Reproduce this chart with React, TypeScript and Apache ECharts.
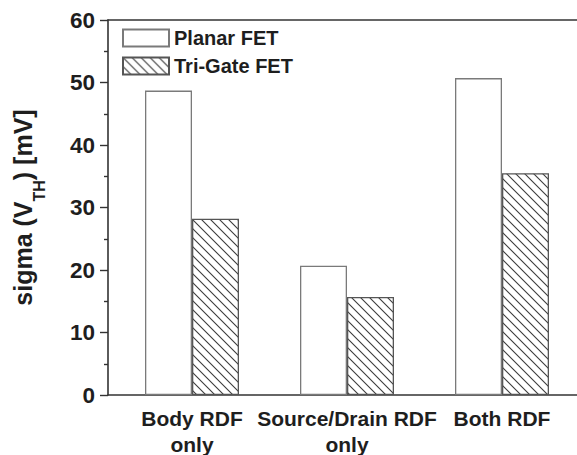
import React, { useEffect, useRef } from "react";
import * as echarts from "echarts";

// Threshold-voltage variability by random dopant fluctuation source
const categories = ["Body RDF\nonly", "Source/Drain RDF\nonly", "Both RDF"];
const planarFET = [48.7, 20.7, 50.7];
const triGateFET = [28.2, 15.7, 35.5];
const yTicks = { min: 0, max: 60, step: 10 };

const INK = "#1e1e1e";
const FONT = "'Liberation Sans', Arial, Helvetica, sans-serif";

// Diagonal "\" hatch tile used as the Tri-Gate fill
function makeHatch(): HTMLCanvasElement {
  const t = 9;
  const c = document.createElement("canvas");
  c.width = t;
  c.height = t;
  const ctx = c.getContext("2d")!;
  ctx.fillStyle = "#ffffff";
  ctx.fillRect(0, 0, t, t);
  ctx.strokeStyle = "#3a3a3a";
  ctx.lineWidth = 1.1;
  for (let k = -1; k <= 1; k++) {
    ctx.beginPath();
    ctx.moveTo(-1, -1 + k * t);
    ctx.lineTo(t + 1, t + 1 + k * t);
    ctx.stroke();
  }
  return c;
}

export default function App() {
  const ref = useRef<HTMLDivElement>(null);

  useEffect(() => {
    if (!ref.current) return;
    const chart = echarts.init(ref.current, undefined, { renderer: "svg" });
    const hatch = makeHatch();

    const barGrid = { left: 114.5, width: 465, top: 20, bottom: 60, outerBoundsMode: "none" };
    const frameGrid = { left: 108, right: -30, top: 20, bottom: 60, outerBoundsMode: "none" };

    chart.setOption({
      animation: false,
      backgroundColor: "#ffffff",
      textStyle: { fontFamily: FONT },
      grid: [barGrid, frameGrid],
      legend: {
        orient: "vertical",
        left: 117,
        top: 23,
        itemWidth: 46,
        itemHeight: 17,
        itemGap: 8,
        icon: "rect",
        textStyle: { fontSize: 20, fontWeight: "bold", color: INK, fontFamily: FONT },
        data: ["Planar FET", "Tri-Gate FET"],
      },
      xAxis: [
        {
          type: "category",
          gridIndex: 0,
          data: categories,
          axisLine: { show: false },
          axisTick: { show: false },
          axisLabel: {
            interval: 0,
            margin: 10,
            fontSize: 21,
            fontWeight: "bold",
            color: INK,
            lineHeight: 26,
            fontFamily: FONT,
          },
        },
        {
          type: "value",
          gridIndex: 1,
          min: 0,
          max: 1,
          axisLine: { show: true, onZero: false, lineStyle: { color: "#333", width: 1.6 } },
          axisTick: { show: false },
          axisLabel: { show: false },
          splitLine: { show: false },
        },
        {
          type: "value",
          gridIndex: 1,
          position: "top",
          min: 0,
          max: 1,
          axisLine: { show: true, onZero: false, lineStyle: { color: "#333", width: 1.6 } },
          axisTick: { show: false },
          axisLabel: { show: false },
          splitLine: { show: false },
        },
      ],
      yAxis: [
        {
          type: "value",
          gridIndex: 0,
          min: yTicks.min,
          max: yTicks.max,
          interval: yTicks.step,
          show: false,
        },
        {
          type: "value",
          gridIndex: 1,
          min: yTicks.min,
          max: yTicks.max,
          interval: yTicks.step,
          axisLine: { show: true, lineStyle: { color: "#333", width: 1.6 } },
          axisTick: { show: true, inside: false, length: 8, lineStyle: { color: "#333", width: 1.4 } },
          minorTick: { show: true, splitNumber: 2, length: 4, lineStyle: { color: "#333", width: 1.4 } },
          splitLine: { show: false },
          axisLabel: {
            margin: 13,
            fontSize: 22.5,
            fontWeight: "bold",
            color: INK,
            fontFamily: FONT,
          },
          name: "{a|sigma (V}{sub|TH}{a|) [mV]}",
          nameLocation: "middle",
          nameGap: 70,
          nameTextStyle: {
            color: INK,
            padding: [0, 0, 0, 0],
            rich: {
              a: { fontSize: 25, fontWeight: "bold", color: INK, fontFamily: FONT, lineHeight: 30 },
              sub: {
                fontSize: 16,
                fontWeight: "bold",
                color: INK,
                fontFamily: FONT,
                lineHeight: 30,
                verticalAlign: "bottom",
                padding: [0, 0, -9, 0],
              },
            },
          },
        },
      ],
      series: [
        {
          name: "Planar FET",
          type: "bar",
          xAxisIndex: 0,
          yAxisIndex: 0,
          data: planarFET,
          barWidth: 47,
          barGap: "0%",
          itemStyle: { color: "#ffffff", borderColor: "#7a7a7a", borderWidth: 1.3 },
        },
        {
          name: "Tri-Gate FET",
          type: "bar",
          xAxisIndex: 0,
          yAxisIndex: 0,
          data: triGateFET,
          barWidth: 47,
          barGap: "0%",
          itemStyle: {
            color: { image: hatch, repeat: "repeat", imageWidth: 9, imageHeight: 9 },
            borderColor: "#555",
            borderWidth: 1.3,
          },
        },
      ],
    });

    return () => chart.dispose();
  }, []);

  return (
    <div
      ref={ref}
      style={{ position: "fixed", left: 0, top: 0, width: 577, height: 455, background: "#fff" }}
    />
  );
}
